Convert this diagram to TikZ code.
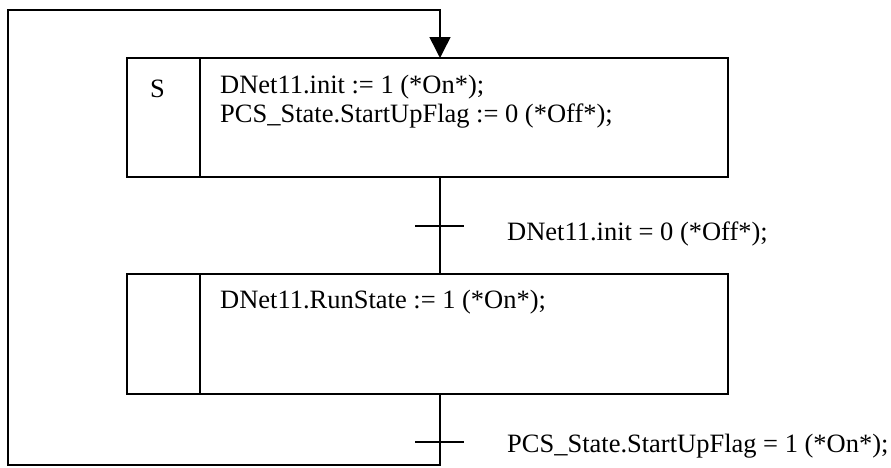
\documentclass[tikz,border=0pt]{standalone}
\usepackage{fontspec}
\setmainfont{Liberation Serif}
\usepackage{tikz}
\usetikzlibrary{arrows.meta, positioning, calc}
\tikzset{
  qualbox/.style={
    rectangle, draw=black, line width=1.3pt, outer sep=0pt,
    minimum width=2.19cm, minimum height=3.57cm
  },
  actbox/.style={qualbox, minimum width=15.84cm},
  sfctext/.style={inner sep=0pt, font=\fontsize{22.6}{24}\selectfont},
  link/.style={line width=1.3pt, draw=black},
  bar/.style={line width=1.3pt, draw=black},
  loop/.style={link, -{Triangle[width=0.63cm, length=0.63cm]}}
}

\begin{document}
\begin{tikzpicture}[x=0.03cm, y=-0.03cm]
  \useasboundingbox (0,0) rectangle (891,467);
  \node[qualbox] (q1) at (163.5,117.5) {};
  \node[actbox, right=0pt of q1] (a1) {};
  \node[qualbox, minimum height=3.6cm] (q2) at (163.5,334) {};
  \node[actbox, minimum height=3.6cm, right=0pt of q2] (a2) {};

  \node[sfctext, anchor=base west] (sq1) at ($(q1.north west)+(23,39)$) {S};
  \node[sfctext, anchor=base west] (x1a) at ($(a1.north west)+(20,35.5)$) {DNet11.init := 1 (*On*);};
  \node[sfctext, anchor=base west] (x1b) at ($(x1a.base west)+(0,28.5)$) {PCS\_State.StartUpFlag := 0 (*Off*);};
  \node[sfctext, anchor=base west] (x2a) at ($(a2.north west)+(20,34)$) {DNet11.RunState := 1 (*On*);};

  \coordinate (t1) at (440,226);
  \coordinate (t2) at (440,442);
  \coordinate (lb) at (8,465);
  \coordinate (lt) at (8,10);
  \draw[link] (a1.south -| t1) -- (a2.north -| t1);
  \draw[loop] (a2.south -| t2) -- (lb -| t2) -- (lb) -- (lt) -- (lt -| t1) -- (a1.north -| t1);
  \draw[bar] ($(t1)+(-25,0)$) -- ($(t1)+(24,0)$);
  \draw[bar] ($(t2)+(-25,0)$) -- ($(t2)+(24,0)$);
  \node[sfctext, anchor=base west] (c1) at ($(t1)+(67,14)$) {DNet11.init = 0 (*Off*);};
  \node[sfctext, anchor=base west] (c2) at ($(t2)+(67,10)$) {PCS\_State.StartUpFlag = 1 (*On*);};
\end{tikzpicture}
\end{document}
